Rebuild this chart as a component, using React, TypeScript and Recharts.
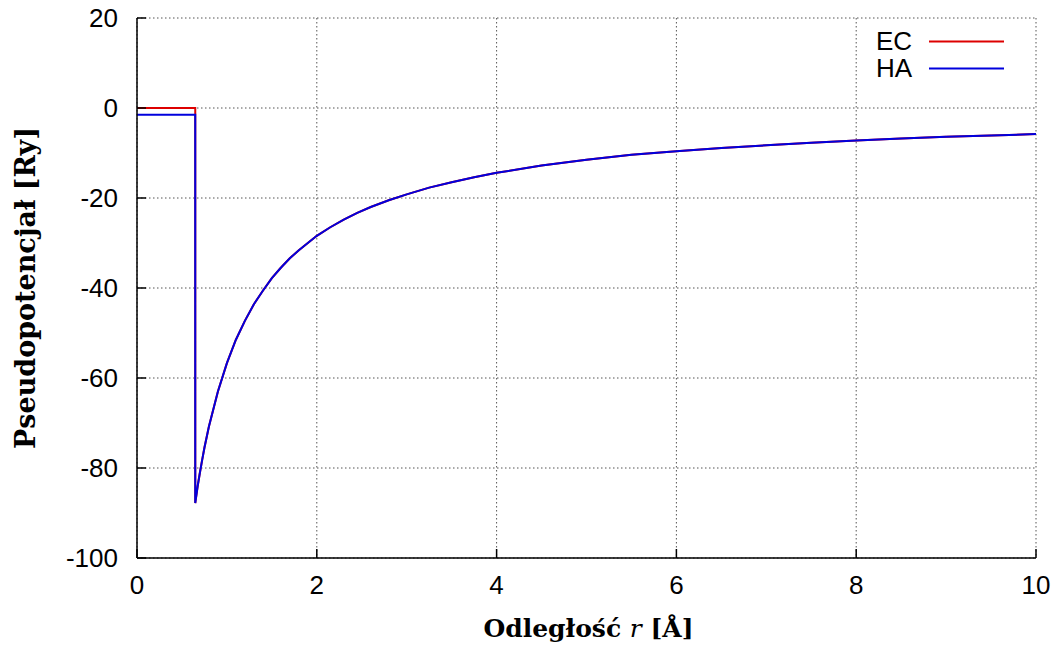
import React from 'react';
import { LineChart, Line, XAxis, YAxis, CartesianGrid, Legend } from 'recharts';

// distance r [Å] and pseudopotential [Ry]
const rValues = [
  0, 0.648, 0.648, 0.675, 0.7, 0.725, 0.75, 0.8, 0.9, 1.0, 1.1, 1.2, 1.3, 1.4, 1.5, 1.6, 1.7, 1.8, 2.0,
  2.15, 2.3, 2.45, 2.6, 2.8, 3.0, 3.25, 3.5, 3.75, 4.0, 4.5, 5.0, 5.5, 6.0, 6.5, 7.0, 7.5, 8.0, 8.5, 9.0,
  9.5, 10.0,
];
const ecValues = [
  0, 0, -87.8, -84, -81, -78.2, -75.5, -70.8, -63, -56.7, -51.5, -47.3, -43.6, -40.6, -37.8, -35.5, -33.4,
  -31.6, -28.4, -26.5, -24.8, -23.3, -22, -20.5, -19.2, -17.7, -16.5, -15.4, -14.4, -12.8, -11.5, -10.4,
  -9.6, -8.9, -8.3, -7.7, -7.2, -6.8, -6.4, -6.1, -5.8,
];
const haValues = [
  -1.5, -1.5, -87.8, -84, -81, -78.2, -75.5, -70.8, -63, -56.7, -51.5, -47.3, -43.6, -40.6, -37.8, -35.5,
  -33.4, -31.6, -28.4, -26.5, -24.8, -23.3, -22, -20.5, -19.2, -17.7, -16.5, -15.4, -14.4, -12.8, -11.5,
  -10.4, -9.6, -8.9, -8.3, -7.7, -7.2, -6.8, -6.4, -6.1, -5.8,
];
const xTicks = [0, 2, 4, 6, 8, 10];
const yTicks = [-100, -80, -60, -40, -20, 0, 20];

const data = rValues.map((r, i) => ({ r, ec: ecValues[i], ha: haValues[i] }));

const TICK_FONT = '"Liberation Sans", Arial, sans-serif';
const LABEL_FONT = '"DejaVu Serif", "Liberation Serif", serif';
const TICK_LEN = 9;
const Y_GAP = 19;
const X_GAP = 17;

const LeftTick = (props: any) => {
  const { x, y, payload } = props;
  return (
    <g>
      <line x1={x + Y_GAP} x2={x + Y_GAP + TICK_LEN} y1={y} y2={y} stroke="#000" strokeWidth={1.5} />
      <text x={x} y={y} dy="0.36em" textAnchor="end" fontFamily={TICK_FONT} fontSize={26} fill="#000">
        {payload.value}
      </text>
    </g>
  );
};

const BottomTick = (props: any) => {
  const { x, y, payload } = props;
  return (
    <g>
      <line x1={x} x2={x} y1={y - X_GAP} y2={y - X_GAP - TICK_LEN} stroke="#000" strokeWidth={1.5} />
      <text x={x} y={y} dy="0.72em" textAnchor="middle" fontFamily={TICK_FONT} fontSize={26} fill="#000">
        {payload.value}
      </text>
    </g>
  );
};

const RightTick = (props: any) => {
  const { x, y } = props;
  return <line x1={x - TICK_LEN} x2={x} y1={y} y2={y} stroke="#000" strokeWidth={1.5} />;
};

const TopTick = (props: any) => {
  const { x, y } = props;
  return <line x1={x} x2={x} y1={y} y2={y + TICK_LEN} stroke="#000" strokeWidth={1.5} />;
};

const renderLegend = (props: any) => {
  const { payload } = props;
  return (
    <div>
      {payload.map((p: any) => (
        <div key={p.value} style={{ display: 'flex', alignItems: 'center', height: 27 }}>
          <div
            style={{
              width: 72,
              textAlign: 'right',
              fontFamily: TICK_FONT,
              fontSize: 26,
              lineHeight: '27px',
              color: '#000',
            }}
          >
            {p.value}
          </div>
          <svg width={92} height={27} style={{ display: 'block' }}>
            <line x1={17} x2={92} y1={13.5} y2={13.5} stroke={p.color} strokeWidth={2} />
          </svg>
        </div>
      ))}
    </div>
  );
};

export default function App() {
  return (
    <div style={{ position: 'absolute', left: 0, top: 0, background: '#fff' }}>
      <LineChart width={1062} height={646} data={data} margin={{ top: 18, right: 26, left: 0, bottom: 0 }}>
        <CartesianGrid stroke="#555" strokeDasharray="1.5 2.5" strokeWidth={1} />
        <XAxis
          dataKey="r"
          type="number"
          domain={[0, 10]}
          ticks={xTicks}
          height={88}
          tickSize={0}
          tickMargin={X_GAP}
          tick={BottomTick}
          axisLine={{ stroke: '#000', strokeWidth: 1.5 }}
          label={(p: any) => {
            const vb = p.viewBox;
            return (
              <text
                x={vb.x + vb.width / 2 + 2}
                y={vb.y + 79}
                textAnchor="middle"
                fontFamily={LABEL_FONT}
                fontSize={25}
                fill="#000"
              >
                <tspan fontWeight="bold">Odległość </tspan>
                <tspan fontStyle="italic">r</tspan>
                <tspan fontWeight="bold"> [Å]</tspan>
              </text>
            );
          }}
        />
        <XAxis
          xAxisId="top"
          orientation="top"
          type="number"
          domain={[0, 10]}
          ticks={xTicks}
          height={0}
          tickSize={0}
          tickMargin={0}
          tick={TopTick}
          axisLine={{ stroke: '#000', strokeWidth: 1.5 }}
        />
        <YAxis
          type="number"
          domain={[-100, 20]}
          ticks={yTicks}
          width={137}
          tickSize={0}
          tickMargin={Y_GAP}
          tick={LeftTick}
          axisLine={{ stroke: '#000', strokeWidth: 1.5 }}
          label={(p: any) => {
            const vb = p.viewBox;
            const cx = vb.x + 25;
            const cy = vb.y + vb.height / 2;
            return (
              <text
                x={cx}
                y={cy}
                transform={`rotate(-90 ${cx} ${cy})`}
                textAnchor="middle"
                dominantBaseline="central"
                fontFamily={LABEL_FONT}
                fontWeight="bold"
                fontSize={27}
                fill="#000"
              >
                Pseudopotencjał [Ry]
              </text>
            );
          }}
        />
        <YAxis
          yAxisId="right"
          orientation="right"
          type="number"
          domain={[-100, 20]}
          ticks={yTicks}
          width={0}
          tickSize={0}
          tickMargin={0}
          tick={RightTick}
          axisLine={{ stroke: '#000', strokeWidth: 1.5 }}
        />
        <Legend
          layout="vertical"
          align="center"
          verticalAlign="middle"
          content={renderLegend}
          wrapperStyle={{ left: 840, top: 27.5, width: 180, height: 54 }}
        />
        <Line
          dataKey="ec"
          name="EC"
          type="linear"
          stroke="#dd0000"
          strokeWidth={2}
          dot={false}
          activeDot={false}
          isAnimationActive={false}
        />
        <Line
          dataKey="ha"
          name="HA"
          type="linear"
          stroke="#0000dd"
          strokeWidth={2}
          dot={false}
          activeDot={false}
          isAnimationActive={false}
        />
      </LineChart>
    </div>
  );
}
